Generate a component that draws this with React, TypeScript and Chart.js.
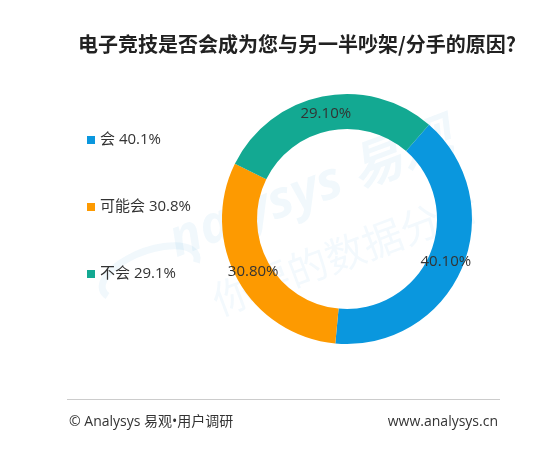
import React, { useEffect, useRef } from "react";
import { Chart, registerables } from "chart.js";

Chart.register(...registerables);

const TITLE = "电子竞技是否会成为您与另一半吵架/分手的原因?";
const categories = ["会", "可能会", "不会"];
const values = [40.1, 30.8, 29.1];
const colors = ["#0a97de", "#fd9a01", "#13a992"];
const footerLeft = "© Analysys 易观•用户调研";
const footerRight = "www.analysys.cn";
const watermarkA = "nalysys 易观";
const watermarkB = "你要的数据分析";

const FONT = '"Open Sans", "Noto Sans CJK SC", sans-serif';

const decorPlugin = {
  id: "decor",
  beforeDraw(chart: any) {
    const ctx = chart.ctx as CanvasRenderingContext2D;
    ctx.save();
    ctx.fillStyle = "#ffffff";
    ctx.fillRect(0, 0, chart.width, chart.height);
    // watermark
    ctx.translate(290, 220);
    ctx.rotate(-0.36);
    ctx.textAlign = "center";
    ctx.textBaseline = "middle";
    ctx.fillStyle = "rgba(20,130,210,0.06)";
    ctx.font = 'italic bold 52px "Open Sans", "Noto Sans CJK SC", sans-serif';
    ctx.fillText(watermarkA, 30, -20);
    ctx.strokeStyle = "rgba(20,130,210,0.06)";
    ctx.lineWidth = 7;
    ctx.beginPath();
    ctx.ellipse(-150, 0, 50, 22, 0, Math.PI * 0.9, Math.PI * 2.1);
    ctx.stroke();
    ctx.font = '40px "Noto Sans CJK SC", sans-serif';
    ctx.fillStyle = "rgba(20,130,210,0.05)";
    ctx.fillText(watermarkB, 40, 50);
    ctx.restore();
  },
  afterDatasetsDraw(chart: any) {
    const ctx = chart.ctx as CanvasRenderingContext2D;
    const meta = chart.getDatasetMeta(0);
    ctx.save();
    ctx.font = `15px ${FONT}`;
    ctx.fillStyle = "#333333";
    ctx.textAlign = "center";
    ctx.textBaseline = "middle";
    meta.data.forEach((arc: any, i: number) => {
      const p = arc.getCenterPoint();
      ctx.fillText(`${values[i].toFixed(2)}%`, p.x, p.y);
    });
    ctx.restore();
  },
  afterDraw(chart: any) {
    const ctx = chart.ctx as CanvasRenderingContext2D;
    ctx.save();
    // title
    ctx.fillStyle = "#222222";
    ctx.font = `bold 20px "Noto Sans CJK SC", sans-serif`;
    ctx.textAlign = "center";
    ctx.textBaseline = "middle";
    ctx.fillText(TITLE, 297, 44);
    // legend
    const legendY = [140, 207, 274];
    ctx.textAlign = "left";
    ctx.font = `15px ${FONT}`;
    categories.forEach((c, i) => {
      ctx.fillStyle = colors[i];
      ctx.fillRect(87, legendY[i] - 4, 8, 8);
      ctx.fillStyle = "#333333";
      ctx.fillText(`${c} ${values[i].toFixed(1)}%`, 100, legendY[i]);
    });
    // footer
    ctx.strokeStyle = "#cccccc";
    ctx.lineWidth = 1;
    ctx.beginPath();
    ctx.moveTo(67, 399.5);
    ctx.lineTo(500, 399.5);
    ctx.stroke();
    ctx.fillStyle = "#333333";
    ctx.font = `14px ${FONT}`;
    ctx.textAlign = "left";
    ctx.fillText(footerLeft, 69, 422);
    ctx.textAlign = "right";
    ctx.fillText(footerRight, 498, 422);
    ctx.restore();
  },
};

export default function App() {
  const ref = useRef<HTMLCanvasElement | null>(null);
  useEffect(() => {
    document.body.style.margin = "0";
    const canvas = ref.current!;
    const chart = new Chart(canvas, {
      type: "doughnut",
      data: {
        labels: categories,
        datasets: [
          {
            data: values,
            backgroundColor: colors,
            borderWidth: 0,
            hoverOffset: 0,
            offset: 0,
          },
        ],
      },
      options: {
        animation: false,
        responsive: false,
        rotation: 41,
        cutout: "72%",
        layout: { padding: { left: 222, right: 84, top: 94, bottom: 115 } },
        plugins: {
          legend: { display: false },
          title: { display: false },
          tooltip: { enabled: false },
        },
        events: [],
      },
      plugins: [decorPlugin],
    });
    return () => chart.destroy();
  }, []);
  return (
    <div style={{ width: 556, height: 459 }}>
      <canvas ref={ref} width={556} height={459} style={{ display: "block" }} />
    </div>
  );
}
